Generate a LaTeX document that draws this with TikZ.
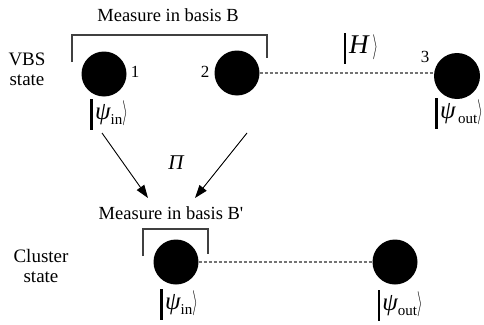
\documentclass[tikz,border=0pt]{standalone}
\usepackage{fontspec}
\setmainfont{Liberation Serif}
\usetikzlibrary{arrows.meta, calc}

% ket label: thick bar, psi, subscript, angle
\newcommand{\ketlabel}[2]{\rule[-10pt]{2.3pt}{31pt}\hspace{2.5pt}{\fontsize{25}{26}\selectfont\itshape #1}\raisebox{-5pt}{\fontsize{15}{16}\selectfont #2}\scalebox{0.8}[1.45]{$\Big\rangle$}}

\begin{document}
\begin{tikzpicture}[x=1pt, y=-1pt,
  qubit/.style={circle, fill=black, minimum size=45pt, inner sep=0pt},
  bond/.style={draw=black!55, line width=1.4pt, dash pattern=on 3pt off 2pt},
  bracket/.style={draw=black!75, line width=1.1pt},
  flow/.style={-{Triangle[length=13pt,width=9pt]}, line width=0.9pt},
  txt/.style={font=\fontsize{18.5}{22}\selectfont, inner sep=0pt},
  side/.style={font=\fontsize{19}{22}\selectfont, align=center, inner sep=0pt},
  num/.style={font=\fontsize{17}{20}\selectfont, inner sep=0pt},
  ket/.style={font=\fontsize{18}{22}\selectfont, inner sep=0pt}]

\useasboundingbox (0,0) rectangle (484,324);

% VBS chain
\node[side] (vbs) at (27,69) {VBS\\[-2pt]state};
\node[qubit] (v1) at (104,74) {};
\node[qubit] (v2) at (237,73) {};
\node[qubit, minimum size=46pt] (v3) at (457,76) {};
\node[num] (n1) at (135,72) {1};
\node[num] (n2) at (205,72) {2};
\node[num] (n3) at (425,57) {3};

\draw[bond] (v2.east) -- (v2.east -| v3.west);

% Measurement on 1 and 2
\node[txt] (mB) at (168,15) {Measure in basis B};
\draw[bracket] (72,62) -- (72,35) -- (267,35) -- (267,58);

% Kets
\node[ket] (kin) at (109,114) {\ketlabel{ψ}{in}};
\node[ket] (kout) at (459,113) {\ketlabel{ψ}{\,out}};
\node[ket] (kH) at (361,48) {\rule[-10pt]{2.3pt}{31pt}\hspace{3pt}{\fontsize{27}{28}\selectfont\itshape H}\hspace{4pt}\scalebox{0.8}[1.45]{$\Big\rangle$}};

% Mapping
\coordinate (a1) at (102,133);
\coordinate (b1) at (148,198);
\coordinate (a2) at (247,133);
\coordinate (b2) at (195,198);
\draw[flow] (a1) -- (b1);
\draw[flow] (a2) -- (b2);
\node[txt, font=\fontsize{21}{22}\selectfont\itshape] (pi) at (176,163) {Π};

% Cluster chain
\node[txt] (mBp) at (171,213) {Measure in basis B\textquotesingle};
\node[side] (cls) at (41,266) {Cluster\\[-2pt]state};
\node[qubit] (c1) at (176,262) {};
\node[qubit] (c2) at (395,262) {};
\draw[bond] (c1) -- (c2);
\draw[bracket] (143,256) -- (143,229) -- (208,229) -- (208,254);

\node[ket] (cin) at (179,304) {\ketlabel{ψ}{in}};
\node[ket] (cout) at (400,305) {\ketlabel{ψ}{out}};

\end{tikzpicture}
\end{document}
